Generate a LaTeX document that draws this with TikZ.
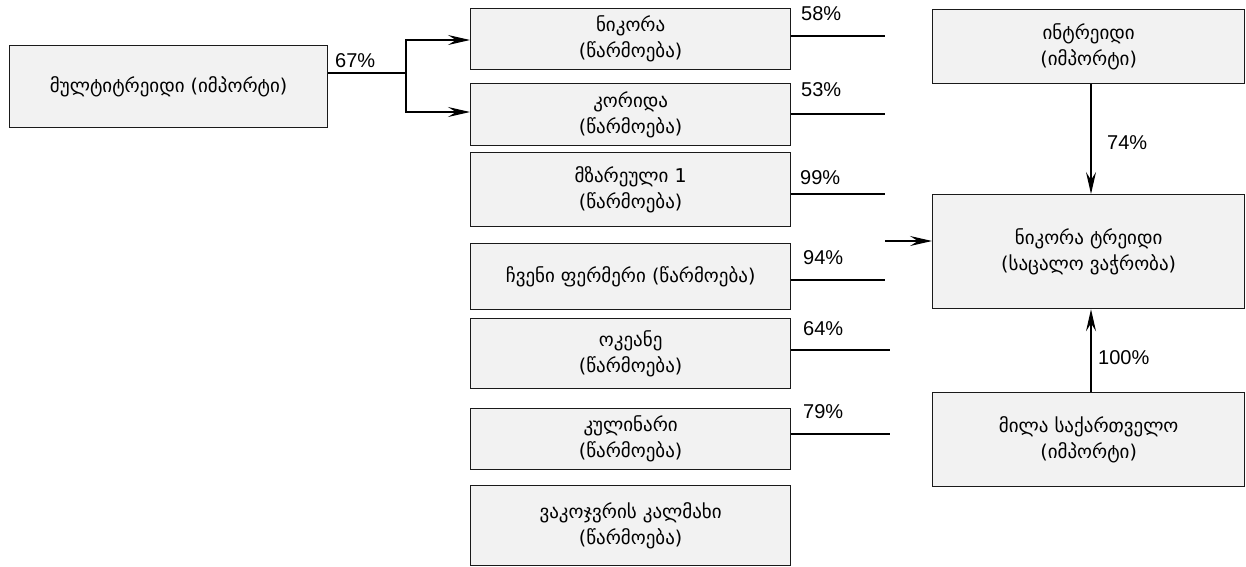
\documentclass[tikz,border=0pt]{standalone}
\usepackage{fontspec}
\setmainfont{Liberation Sans}
\newfontfamily\geo{DejaVu Sans}
\usetikzlibrary{arrows.meta}
\definecolor{boxfill}{HTML}{F2F2F2}
\definecolor{edge}{HTML}{1A1A1A}
\begin{document}
\begin{tikzpicture}[x=1pt,y=-1pt,
  box/.style={draw=edge, line width=1.3pt, fill=boxfill, anchor=north west, inner sep=0pt,
    align=center, font=\geo\fontsize{19}{26}\selectfont},
  pct/.style={font=\fontsize{20}{22}\selectfont, inner sep=0pt, anchor=west},
  conn/.style={draw=black, line width=1.1pt},
  arr/.style={conn, -{Stealth[length=22pt,width=10pt,inset=8pt]}}]
\useasboundingbox (0,0) rectangle (1246,566);
% left box
\node[box, minimum width=318pt, minimum height=82pt] (L) at (9,45) {მულტიტრეიდი (იმპორტი)};
% middle column
\node[box, minimum width=320pt, minimum height=61pt] (N1) at (470,8) {ნიკორა\\(წარმოება)};
\node[box, minimum width=320pt, minimum height=62pt] (N2) at (470,83) {კორიდა\\(წარმოება)};
\node[box, minimum width=320pt, minimum height=74pt] (N3) at (470,152) {მზარეული 1\\(წარმოება)};
\node[box, minimum width=320pt, minimum height=66pt] (N4) at (470,243) {ჩვენი ფერმერი (წარმოება)};
\node[box, minimum width=320pt, minimum height=70pt] (N5) at (470,318) {ოკეანე\\(წარმოება)};
\node[box, minimum width=320pt, minimum height=61pt] (N6) at (470,408) {კულინარი\\(წარმოება)};
\node[box, minimum width=320pt, minimum height=80pt] (N7) at (470,485) {ვაკოჯვრის კალმახი\\(წარმოება)};
% right column
\node[box, minimum width=312pt, minimum height=74pt] (I) at (932,9) {ინტრეიდი\\(იმპორტი)};
\node[box, minimum width=312pt, minimum height=114pt] (T) at (932,194) {ნიკორა ტრეიდი\\(საცალო ვაჭრობა)};
\node[box, minimum width=312pt, minimum height=94pt] (M) at (932,392) {მილა საქართველო\\(იმპორტი)};
% junction and free ends
\coordinate (j) at (406,73);
\coordinate (e1) at (885,36);
\coordinate (e2) at (885,114);
\coordinate (e3) at (885,194);
\coordinate (e4) at (885,280);
\coordinate (e5) at (890,350);
\coordinate (e6) at (890,434);
\coordinate (s) at (885,241);
% connectors
\draw[conn] (L.east |- j) -- (j);
\draw[arr] (j) |- (N1.west |- 0,40);
\draw[arr] (j) |- (N2.west |- 0,112);
\draw[conn] (N1.east |- e1) -- (e1);
\draw[conn] (N2.east |- e2) -- (e2);
\draw[conn] (N3.east |- e3) -- (e3);
\draw[conn] (N4.east |- e4) -- (e4);
\draw[conn] (N5.east |- e5) -- (e5);
\draw[conn] (N6.east |- e6) -- (e6);
\draw[arr] (s) -- (T.west |- s);
\draw[arr] (I.south -| 1091,0) -- (T.north -| 1091,0);
\draw[arr] (M.north -| 1091,0) -- (T.south -| 1091,0);
% labels
\node[pct] (p67) at (335,61) {67\%};
\node[pct] (p58) at (801,14) {58\%};
\node[pct] (p53) at (801,90) {53\%};
\node[pct] (p99) at (800,178) {99\%};
\node[pct] (p94) at (803,258) {94\%};
\node[pct] (p64) at (803,329) {64\%};
\node[pct] (p79) at (803,412) {79\%};
\node[pct] (p74) at (1107,143) {74\%};
\node[pct] (p100) at (1098,358) {100\%};
\end{tikzpicture}
\end{document}
